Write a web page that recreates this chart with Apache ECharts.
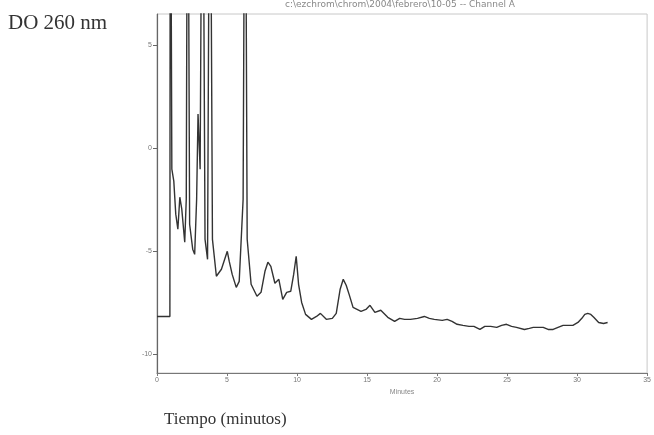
<!DOCTYPE html>
<html>
<head>
<meta charset="utf-8">
<title>Cromatograma</title>
<script src="https://cdn.jsdelivr.net/npm/echarts@6/dist/echarts.min.js"></script>
<style>
  html, body { margin: 0; padding: 0; background: #fff; }
  #chart { width: 654px; height: 435px; }
</style>
</head>
<body>
<div id="chart"></div>
<script>
// tiempo (minutos)
var tiempos = [
  0.00, 0.92, 0.95, 1.06, 1.20, 1.34, 1.49, 1.63, 1.77, 1.98,
  2.09, 2.19, 2.33, 2.55, 2.69, 2.83, 2.93, 3.08, 3.25, 3.43,
  3.61, 3.78, 3.96, 4.24, 4.60, 4.88, 5.02, 5.16, 5.37, 5.66,
  5.87, 6.15, 6.29, 6.44, 6.72, 7.14, 7.43, 7.71, 7.92, 8.13,
  8.42, 8.70, 8.98, 9.26, 9.55, 9.76, 9.94, 10.11, 10.33, 10.61,
  11.03, 11.39, 11.67, 12.09, 12.52, 12.80, 13.08, 13.30, 13.51, 13.72,
  14.00, 14.57, 14.92, 15.21, 15.56, 15.98, 16.48, 16.97, 17.33, 17.68,
  18.10, 18.60, 19.09, 19.45, 19.80, 20.37, 20.72, 21.07, 21.43, 21.85,
  22.28, 22.63, 23.06, 23.41, 23.83, 24.26, 24.61, 24.96, 25.32, 25.67,
  26.24, 26.59, 26.87, 27.23, 27.58, 27.93, 28.29, 28.64, 29.00, 29.35,
  29.70, 30.06, 30.34, 30.55, 30.76, 30.98, 31.19, 31.54, 31.89, 32.18
];
// absorbancia (picos fuera de escala = 20)
var senal = [
  -8.16, -8.16, 20, -1.02, -1.60, -3.20, -3.93, -2.38, -2.96, -4.56,
  -2.48, 20, -3.69, -4.90, -5.15, -2.48, 1.65, -1.02, 20, -4.42,
  -5.39, 20, -4.42, -6.21, -5.87, -5.29, -5.00, -5.49, -6.12, -6.75,
  -6.46, -2.48, 20, -4.42, -6.60, -7.18, -6.99, -5.97, -5.53, -5.73,
  -6.55, -6.36, -7.33, -6.99, -6.94, -6.12, -5.24, -6.60, -7.48, -8.06,
  -8.30, -8.16, -8.01, -8.30, -8.25, -8.01, -6.84, -6.36, -6.65, -7.09,
  -7.72, -7.91, -7.82, -7.62, -7.96, -7.86, -8.20, -8.40, -8.25, -8.30,
  -8.30, -8.25, -8.16, -8.25, -8.30, -8.35, -8.30, -8.40, -8.54, -8.59,
  -8.64, -8.64, -8.79, -8.64, -8.64, -8.69, -8.59, -8.54, -8.64, -8.69,
  -8.79, -8.74, -8.69, -8.69, -8.69, -8.79, -8.79, -8.69, -8.59, -8.59,
  -8.59, -8.45, -8.25, -8.06, -8.01, -8.06, -8.20, -8.45, -8.50, -8.45
];
var ticksY = [-10, -5, 0, 5];
var ticksX = [0, 5, 10, 15, 20, 25, 30, 35];

var puntos = tiempos.map(function (t, i) { return [t, senal[i]]; });

var chart = echarts.init(document.getElementById('chart'), null, { renderer: 'canvas' });
var option = {
  animation: false,
  backgroundColor: '#fff',
  grid: {
    left: 157, right: 4, top: 14, bottom: 62,
    show: true, borderColor: '#c8c8c8', borderWidth: 1
  },
  graphic: [
    { type: 'text', left: 8, top: 13,
      style: { text: 'DO 260 nm', font: '21px "Liberation Serif", "DejaVu Serif", serif', fill: '#333' } },
    { type: 'text', left: 164, top: 411,
      style: { text: 'Tiempo (minutos)', font: '17px "Liberation Serif", "DejaVu Serif", serif', fill: '#333' } },
    { type: 'text', left: 285, top: 0,
      style: { text: 'c:\\ezchrom\\chrom\\2004\\febrero\\10-05 -- Channel A', font: '9px "DejaVu Sans", sans-serif', fill: '#888' } }
  ],
  xAxis: {
    type: 'value', min: 0, max: 35, interval: 5,
    name: 'Minutes', nameLocation: 'middle', nameGap: 13,
    nameTextStyle: { fontSize: 7, color: '#888' },
    axisLine: { show: true, onZero: false, lineStyle: { color: '#777', width: 1.2 } },
    axisTick: { show: true, length: 3, lineStyle: { color: '#777' } },
    axisLabel: { fontSize: 7, color: '#777', margin: 4,
      customValues: ticksX },
    splitLine: { show: false }
  },
  yAxis: {
    type: 'value', min: -10.9, max: 6.5,
    axisLine: { show: true, onZero: false, lineStyle: { color: '#666', width: 1.2 } },
    axisTick: { show: true, length: 4, lineStyle: { color: '#666' }, customValues: ticksY },
    axisLabel: { fontSize: 7, color: '#777', margin: 5, customValues: ticksY },
    splitLine: { show: false }
  },
  series: [{
    type: 'line',
    data: puntos,
    showSymbol: false,
    clip: true,
    lineStyle: { color: '#333', width: 1.4 }
  }]
};
chart.setOption(option);
</script>
</body>
</html>
